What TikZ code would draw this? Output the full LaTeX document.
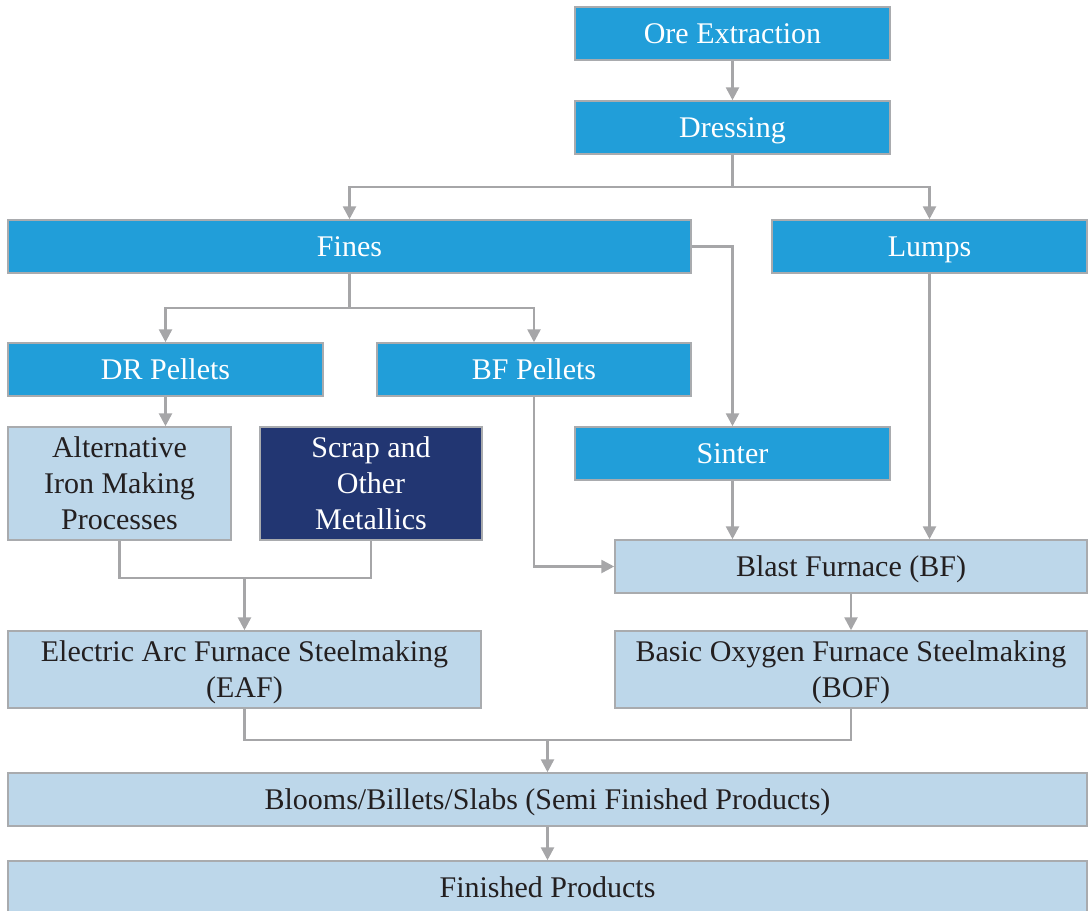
\documentclass[tikz,border=0pt]{standalone}
\usepackage{fontspec}
\setmainfont{Liberation Serif}
\usepackage{xcolor}
\usepackage{tikz}
\usetikzlibrary{arrows.meta,positioning,calc}
\definecolor{cyanbox}{HTML}{219ED9}
\definecolor{palebox}{HTML}{BDD7EA}
\definecolor{navybox}{HTML}{223672}
\definecolor{edge}{HTML}{A9ABAE}
\definecolor{wire}{HTML}{A6A6A8}
\definecolor{ink}{HTML}{231F20}

\begin{document}
\begin{tikzpicture}[
  x=1pt, y=-1pt,
  font=\fontsize{30}{36}\selectfont,
  box/.style={draw=edge, line width=1.5pt, inner sep=0pt, align=center, minimum height=53pt},
  oneline/.style={text height=24pt, text depth=5pt},
  stage/.style={box, oneline, fill=cyanbox, text=white},
  route/.style={box, oneline, fill=palebox, text=ink},
  tallroute/.style={box, fill=palebox, text=ink},
  twoline/.style={text depth=1pt},
  feed/.style={box, fill=navybox, text=white},
  wline/.style={draw=wire, line width=2.6pt},
  arr/.style={wline, -{Triangle[length=13pt, width=13pt]}}
]
\useasboundingbox (0,0) rectangle (1088,911);
% upstream ore chain
\node[stage, minimum width=315pt] (ore) at (732.5,33.5) {Ore Extraction};
\node[stage, minimum width=315pt] (dress) at (732.5,127.5) {Dressing};
\node[stage, minimum width=683pt] (fines) at (349.5,246.5) {Fines};
\node[stage, minimum width=315pt] (lumps) at (929.5,246.5) {Lumps};
\node[stage, minimum width=315pt] (dr) at (165.5,369.5) {DR Pellets};
\node[stage, minimum width=314pt] (bfp) at (534,369.5) {BF Pellets};
\node[stage, minimum width=315pt] (sinter) at (732.5,453.5) {Sinter};
% iron making
\node[tallroute, minimum width=223pt, minimum height=113pt] (alt) at (119.5,483.5) {Alternative\\Iron Making\\Processes};
\node[feed, minimum width=222pt, minimum height=113pt] (scrap) at (371,483.5) {Scrap and\\Other\\Metallics};
\node[route, minimum width=472pt] (bf) at (851,566.5) {Blast Furnace (BF)};
% steel making
\node[tallroute, twoline, minimum width=473pt, minimum height=77pt] (eaf) at (244.5,669.5) {Electric Arc Furnace Steelmaking\\(EAF)};
\node[tallroute, twoline, minimum width=472pt, minimum height=77pt] (bof) at (851,669.5) {Basic Oxygen Furnace Steelmaking\\(BOF)};
\node[route, minimum width=1079pt] (blooms) at (547.5,799.5) {Blooms/Billets/Slabs (Semi Finished Products)};
\node[route, minimum width=1079pt] (fin) at (547.5,887.5) {Finished Products};

\coordinate (j1) at (732.5,187);
\coordinate (j2) at (349.5,308);
\coordinate (j3) at (244.5,578);
\coordinate (j4) at (547.5,740);

\draw[arr] (ore) -- (dress);
\draw[wline] (dress.south) -- (j1);
\draw[arr] (j1) -| (fines.north);
\draw[arr] (j1) -| (lumps.north);
\draw[arr] (fines.east) -| (sinter.north);
\draw[wline] (fines.south) -- (j2);
\draw[arr] (j2) -| (dr.north);
\draw[arr] (j2) -| (bfp.north);
\draw[arr] (dr.south) -- (dr.south |- alt.north);
\draw[arr] (bfp.south) |- (bf.west);
\draw[arr] (sinter.south) -- (sinter.south |- bf.north);
\draw[arr] (lumps.south) -- (lumps.south |- bf.north);
\draw[wline] (alt.south) |- (j3) -| (scrap.south);
\draw[arr] (j3) -- (eaf.north);
\draw[arr] (bf) -- (bof);
\draw[wline] (eaf.south) |- (j4) -| (bof.south);
\draw[arr] (j4) -- (blooms.north);
\draw[arr] (blooms) -- (fin);
\end{tikzpicture}
\end{document}
